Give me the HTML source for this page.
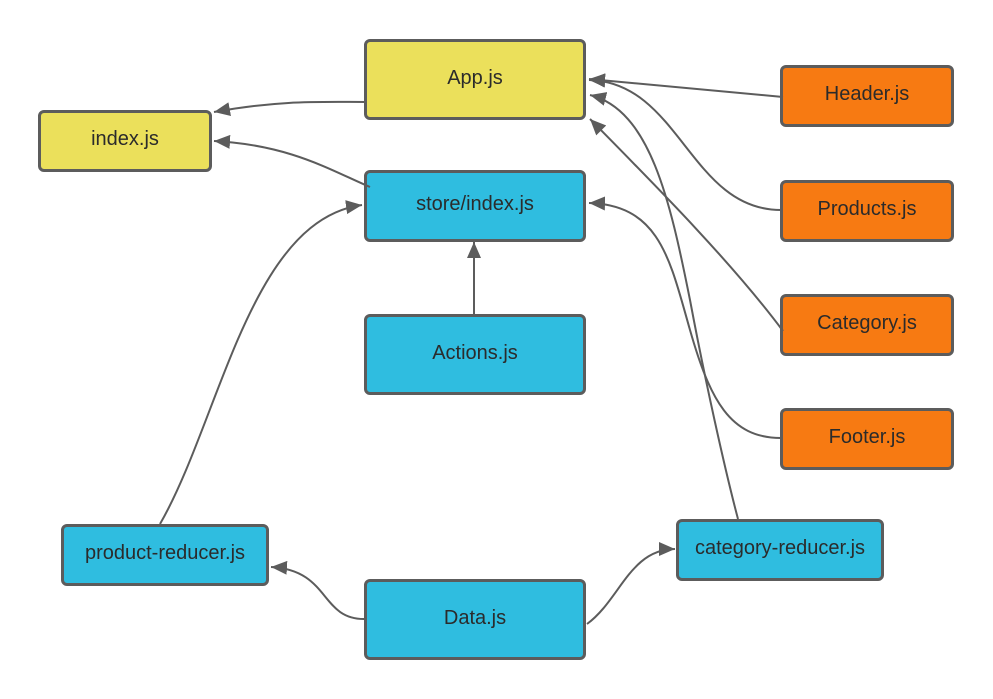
<!DOCTYPE html>
<html><head><style>
body{margin:0;width:993px;height:699px;background:#fff;position:relative;font-family:"Liberation Sans",sans-serif;overflow:hidden}
.b{position:absolute;box-sizing:border-box;border:3px solid #5c5c5c;border-radius:6px;display:flex;align-items:center;justify-content:center;font-size:20px;color:#2b2b2b;padding-bottom:3px}
.y{background:#ebe05b}.c{background:#2fbde0}.o{background:#f77a12}
svg{position:absolute;left:0;top:0}
</style></head><body>
<div class="b y" style="left:364px;top:39px;width:222px;height:81px">App.js</div>
<div class="b y" style="left:38px;top:110px;width:174px;height:62px">index.js</div>
<div class="b c" style="left:364px;top:170px;width:222px;height:72px">store/index.js</div>
<div class="b c" style="left:364px;top:314px;width:222px;height:81px">Actions.js</div>
<div class="b o" style="left:780px;top:65px;width:174px;height:62px">Header.js</div>
<div class="b o" style="left:780px;top:180px;width:174px;height:62px">Products.js</div>
<div class="b o" style="left:780px;top:294px;width:174px;height:62px">Category.js</div>
<div class="b o" style="left:780px;top:408px;width:174px;height:62px">Footer.js</div>
<div class="b c" style="left:61px;top:524px;width:208px;height:62px">product-reducer.js</div>
<div class="b c" style="left:676px;top:519px;width:208px;height:62px">category-reducer.js</div>
<div class="b c" style="left:364px;top:579px;width:222px;height:81px">Data.js</div>
<svg width="993" height="699">
<defs>
<marker id="m" markerWidth="16" markerHeight="14" refX="16" refY="7" orient="auto-start-reverse" markerUnits="userSpaceOnUse" viewBox="0 0 16 14"><path d="M16,7 L0,0 L0,14Z" fill="#5c5c5c"/></marker></defs>
<g fill="none" stroke="#5c5c5c" stroke-width="2">
<path marker-start="url(#m)" d="M589,79 L783,97"/>
<path marker-start="url(#m)" d="M589,80 C680,82 690,210 781,210"/>
<path marker-start="url(#m)" d="M590,119 C650,180 730,260 783,331"/>
<path marker-start="url(#m)" d="M590,95 C650,110 670,200 690,300 C705,380 725,470 738,519"/>
<path marker-start="url(#m)" d="M589,203 C660,205 670,260 690,330 C710,400 730,438 781,438"/>
<path marker-start="url(#m)" d="M214,112 C280,100 320,102 367,102"/>
<path marker-start="url(#m)" d="M214,141 C290,145 330,170 370,187"/>
<path marker-start="url(#m)" d="M362,205 C250,220 220,420 160,524"/>
<path marker-start="url(#m)" d="M474,242 L474,314"/>
<path marker-start="url(#m)" d="M271,567 C330,570 320,619 364,619"/>
<path marker-start="url(#m)" d="M675,549 C630,549 620,600 587,624"/>
</g></svg>
</body></html>
